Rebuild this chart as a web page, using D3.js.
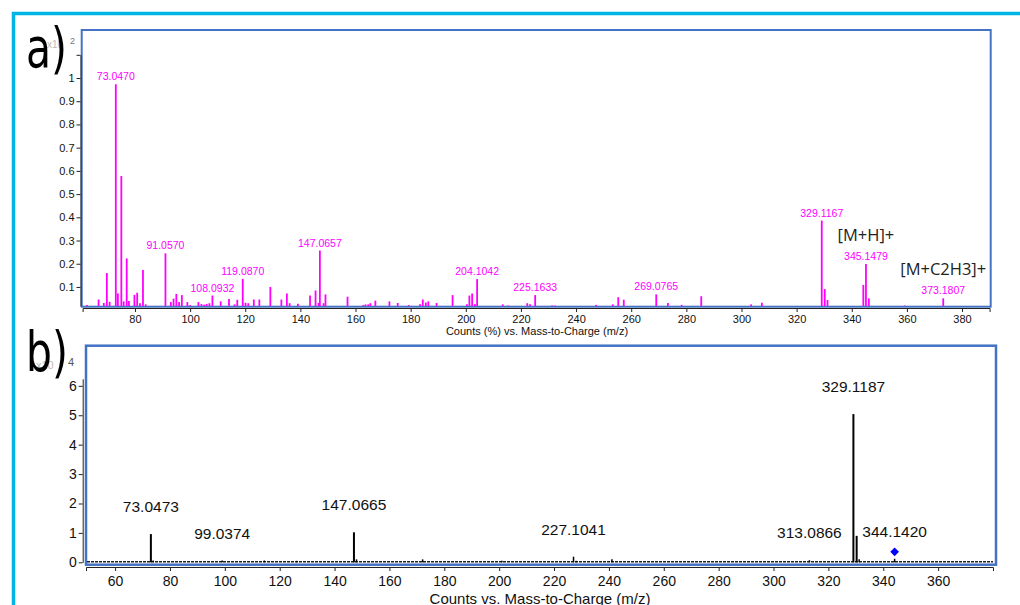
<!DOCTYPE html>
<html>
<head>
<meta charset="utf-8">
<script src="https://cdn.jsdelivr.net/npm/d3@7"></script>
<style>
body { margin: 0; background: #fff; }
svg { display: block; font-family: "Liberation Sans", Arial, sans-serif; }
</style>
</head>
<body>
<div id="chart"></div>
<script>
// panel a: product ion spectrum, counts (%) x10^2
const mzA = [62.6, 66.8, 68.7, 69.8, 70.8, 73.047, 73.8, 75.05, 75.9, 77.0, 77.8, 79.8, 80.8, 81.8, 82.9, 83.9,
    91.057, 93.0, 94.0, 95.0, 96.0, 97.0, 99.0, 100.0, 103.0, 104.1, 105.1, 106.0, 107.0, 108.0932,
    111.1, 114.1, 116.1, 117.1, 119.087, 120.1, 121.1, 123.1, 125.1, 129.1, 133.1, 135.1, 136.1, 139.1,
    143.5, 145.5, 146.6, 147.0657, 148.4, 149.1, 157.1, 162.8, 163.6, 164.6, 165.4, 167.2, 172.3, 175.3,
    179.3, 183.4, 184.4, 185.5, 186.4, 189.4, 195.2, 200.4, 201.3, 202.3, 203.3, 204.1042, 213.4, 215.4,
    222.3, 223.3, 225.1633, 231.3, 232.3, 247.3, 253.3, 255.3, 257.3, 269.0765, 273.3, 278.3, 285.4,
    303.5, 307.4, 329.1167, 330.2, 331.2, 344.2, 345.1479, 346.2, 359.2, 373.1807];
const intA = [0.022, 0.046, 0.031, 0.16, 0.036, 0.973, 0.072, 0.578, 0.038, 0.223, 0.04, 0.066, 0.075, 0.03, 0.173, 0.025,
    0.245, 0.035, 0.05, 0.07, 0.035, 0.065, 0.035, 0.022, 0.035, 0.027, 0.024, 0.027, 0.03, 0.063,
    0.038, 0.048, 0.025, 0.045, 0.135, 0.032, 0.03, 0.046, 0.046, 0.10, 0.046, 0.072, 0.03, 0.028,
    0.063, 0.085, 0.031, 0.257, 0.03, 0.068, 0.058, 0.022, 0.025, 0.025, 0.03, 0.041, 0.038, 0.031,
    0.022, 0.026, 0.046, 0.033, 0.038, 0.031, 0.065, 0.026, 0.063, 0.072, 0.026, 0.134, 0.025, 0.02,
    0.03, 0.025, 0.065, 0.02, 0.02, 0.023, 0.025, 0.056, 0.045, 0.068, 0.031, 0.023, 0.06,
    0.025, 0.032, 0.386, 0.091, 0.044, 0.109, 0.199, 0.051, 0.02, 0.051];
const labelsA = ['73.0470', '91.0570', '108.0932', '119.0870', '147.0657', '204.1042', '225.1633',
    '269.0765', '329.1167', '345.1479', '373.1807'];
const ionsA = ['[M+H]+', '[M+C2H3]+'];
const ionPeaksA = ['345.1479', '373.1807'];
const xTicksA = [80, 100, 120, 140, 160, 180, 200, 220, 240, 260, 280, 300, 320, 340, 360, 380];
const yTicksA = [0.1, 0.2, 0.3, 0.4, 0.5, 0.6, 0.7, 0.8, 0.9, 1.0, 1.1];

// panel b: full scan, counts x10^4
const mzB = [73.0473, 73.9, 99.0374, 114.4, 126.2, 147.0665, 148.0, 172.1, 201.0, 227.1041, 228.1,
    241.1, 313.0866, 329.1187, 330.3, 331.2, 344.142];
const intB = [0.96, 0.06, 0.06, 0.06, 0.05, 1.02, 0.1, 0.1, 0.05, 0.19, 0.05,
    0.1, 0.07, 5.04, 0.9, 0.1, 0.12];
const labelsB = ['73.0473', '99.0374', '147.0665', '227.1041', '313.0866', '329.1187', '344.1420'];
const markerB = ['344.1420'];
const xTicksB = [60, 80, 100, 120, 140, 160, 180, 200, 220, 240, 260, 280, 300, 320, 340, 360];
const yTicksB = [0, 1, 2, 3, 4, 5, 6];

function peakAt(mzs, ints, m) {
    let best = 0;
    mzs.forEach((d, i) => { if (Math.abs(d - m) < Math.abs(mzs[best] - m)) best = i; });
    return ints[best];
}

const svg = d3.select('#chart').append('svg').attr('width', 1020).attr('height', 605);
const narrow = "'Liberation Sans Narrow','DejaVu Sans Condensed',sans-serif";

// cyan border of the figure
svg.append('path')
    .attr('d', 'M13.5,605V13.5H1020')
    .attr('fill', 'none')
    .attr('stroke', '#00b4e4')
    .attr('stroke-width', 3.5);

// ---------- panel a ----------
const xA = d3.scaleLinear().domain([61, 390]).range([82.6, 989.6]);
const yA = d3.scaleLinear().domain([0.018, 1.1]).range([306, 54.8]);

svg.append('text').attr('x', 47).attr('y', 48).attr('font-size', 10).attr('fill', '#bbb').text('x10');
svg.append('text').attr('x', 70).attr('y', 44).attr('font-size', 9).attr('fill', '#777').text('2');
svg.append('text').attr('transform', 'translate(26,67) scale(0.84,1.02)')
    .attr('font-family', narrow).attr('font-size', 54).text('a)');

svg.append('rect')
    .attr('x', 81.7).attr('y', 30).attr('width', 909).attr('height', 276.7)
    .attr('fill', 'none').attr('stroke', '#4472c4').attr('stroke-width', 2);

svg.append('g')
    .selectAll('line')
    .data(mzA)
    .join('line')
    .attr('x1', d => xA(d)).attr('x2', d => xA(d))
    .attr('y1', yA(0.018)).attr('y2', (d, i) => yA(intA[i]))
    .attr('stroke', '#ff00ff')
    .attr('stroke-width', 1.8);

svg.append('g')
    .selectAll('text')
    .data(labelsA)
    .join('text')
    .attr('x', d => xA(+d))
    .attr('y', d => yA(peakAt(mzA, intA, +d)) - 4)
    .attr('text-anchor', 'middle')
    .attr('font-size', 10.5)
    .attr('fill', '#ff00ff')
    .text(d => d);

svg.append('g')
    .selectAll('text')
    .data(ionsA)
    .join('text')
    .attr('x', (d, i) => xA(+ionPeaksA[i]))
    .attr('y', (d, i) => yA(peakAt(mzA, intA, +ionPeaksA[i])) - 23)
    .attr('text-anchor', 'middle')
    .attr('font-family', "'Open Sans', sans-serif")
    .attr('font-size', 16.5)
    .attr('fill', '#222')
    .text(d => d);

const yAxisA = svg.append('g')
    .attr('transform', 'translate(80.5,0)')
    .call(d3.axisLeft(yA).tickValues(yTicksA).tickSize(4).tickSizeOuter(0).tickPadding(2)
        .tickFormat(d => d > 1.05 ? '' : String(+d.toFixed(1))));

const xAxisA = svg.append('g')
    .attr('transform', 'translate(0,308)')
    .call(d3.axisBottom(xA).tickValues(xTicksA).tickSize(4).tickSizeOuter(4).tickPadding(3));

[yAxisA, xAxisA].forEach(g => {
    g.attr('font-family', null).attr('font-size', 11);
    g.selectAll('text').attr('fill', '#111');
    g.selectAll('path, line').attr('stroke', '#222');
});

svg.append('text').attr('x', 537).attr('y', 335).attr('text-anchor', 'middle')
    .attr('font-size', 11).attr('fill', '#111')
    .text('Counts (%) vs. Mass-to-Charge (m/z)');

// ---------- panel b ----------
const xB = d3.scaleLinear().domain([49.4, 380]).range([86, 993]);
const yB = d3.scaleLinear().domain([0, 6.24]).range([562.3, 378.8]);

svg.append('text').attr('x', 36).attr('y', 369).attr('font-size', 11).attr('fill', '#bbb').text('x10');
svg.append('text').attr('x', 68).attr('y', 366).attr('font-size', 11).attr('fill', '#555').text('4');
svg.append('text').attr('transform', 'translate(26,371) scale(0.84,1.02)')
    .attr('font-family', narrow).attr('font-size', 54).text('b)');

svg.append('rect')
    .attr('x', 86).attr('y', 345.7).attr('width', 910).attr('height', 219)
    .attr('fill', 'none').attr('stroke', '#4472c4').attr('stroke-width', 2.5);

// noisy baseline
svg.append('line')
    .attr('x1', xB(49.4) + 1).attr('x2', xB(380))
    .attr('y1', yB(0.02)).attr('y2', yB(0.02))
    .attr('stroke', '#222').attr('stroke-width', 1.5).attr('stroke-dasharray', '3,1');

svg.append('g')
    .selectAll('line')
    .data(mzB)
    .join('line')
    .attr('x1', d => xB(d)).attr('x2', d => xB(d))
    .attr('y1', yB(0)).attr('y2', (d, i) => yB(intB[i]))
    .attr('stroke', '#000')
    .attr('stroke-width', (d, i) => intB[i] > 0.5 ? 2 : 1.5);

svg.append('g')
    .selectAll('text')
    .data(labelsB)
    .join('text')
    .attr('x', d => xB(+d))
    .attr('y', d => yB(peakAt(mzB, intB, +d)) - 22)
    .attr('text-anchor', 'middle')
    .attr('font-size', 15.5)
    .attr('fill', '#111')
    .text(d => d);

// precursor marker (square turned 45 degrees)
svg.append('g')
    .selectAll('path')
    .data(markerB)
    .join('path')
    .attr('d', d3.symbol(d3.symbolSquare, 38))
    .attr('transform', d => `translate(${xB(+d)},${yB(peakAt(mzB, intB, +d)) - 7}) rotate(45)`)
    .attr('fill', '#0000ff');

const yAxisB = svg.append('g')
    .attr('transform', 'translate(82.7,0)')
    .call(d3.axisLeft(yB).tickValues(yTicksB).tickSize(4).tickSizeOuter(0).tickPadding(2)
        .tickFormat(d => String(d)));

const xAxisB = svg.append('g')
    .attr('transform', 'translate(0,567)')
    .call(d3.axisBottom(xB).tickValues(xTicksB).tickSize(4).tickSizeOuter(4).tickPadding(5));

[yAxisB, xAxisB].forEach(g => {
    g.attr('font-family', null).attr('font-size', 14);
    g.selectAll('text').attr('fill', '#111');
    g.selectAll('path, line').attr('stroke', '#222');
});

svg.append('text').attr('x', 540).attr('y', 603.5).attr('text-anchor', 'middle')
    .attr('font-size', 15).attr('fill', '#111')
    .text('Counts vs. Mass-to-Charge (m/z)');
</script>
</body>
</html>
